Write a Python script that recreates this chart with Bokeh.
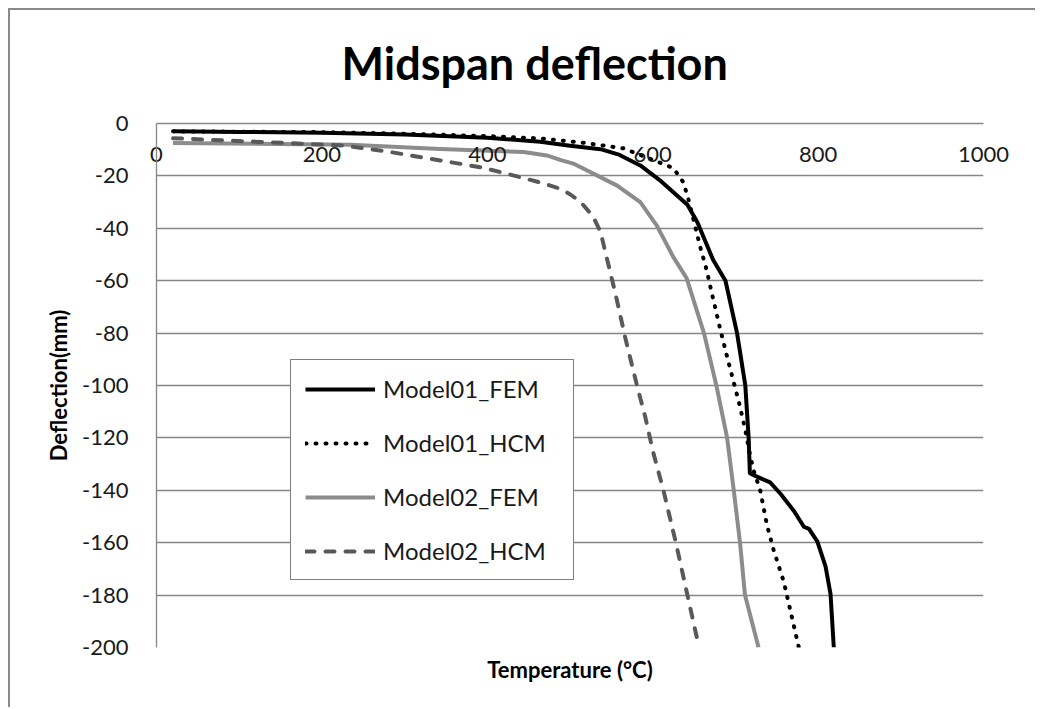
from bokeh.plotting import figure
from bokeh.models import Range1d, FixedTicker, Legend, LegendItem, Title, LinearAxis
from bokeh.embed import file_html
from bokeh.resources import INLINE

# ---- data ----
m1_fem_t = [20, 100, 200, 300, 400, 464, 500, 537, 560, 585, 610, 642, 654, 673, 688,
            702, 712, 716, 717.5, 724, 742, 755, 771, 783, 789, 799, 809, 815, 819]
m1_fem_d = [-3.0, -3.2, -3.5, -4.2, -5.4, -7.0, -8.5, -9.8, -12, -16, -22, -31, -37.7, -52, -60,
            -80, -100, -120, -133.5, -134.5, -137, -141.5, -148, -154, -154.7, -159.5, -169, -179.5, -200]

m1_hcm_t = [20, 200, 300, 400, 464, 520, 565, 597, 625, 637, 643, 648, 658, 666, 668,
            682, 694, 704, 712, 718, 722, 730, 738, 746.4, 758.6, 776.7]
m1_hcm_d = [-3.0, -3.3, -3.9, -4.8, -5.7, -7.5, -9.5, -13.5, -17, -22.4, -28.7, -35, -47.7, -56.8, -60,
            -79, -94, -106, -117, -127, -132.4, -140, -153, -163, -175, -200]

m2_fem_t = [20, 235, 343, 444, 472, 489, 504, 557, 585, 605, 625, 641, 662, 677, 690, 698, 705.6, 711.6, 728]
m2_fem_d = [-7.4, -8.1, -9.7, -10.9, -12.2, -14, -15.3, -23.7, -30, -39, -51, -59, -80, -100, -120, -140, -160, -180, -200]

m2_hcm_t = [20, 226, 283, 343, 392, 424, 464, 489, 500, 513, 528, 537, 545, 555, 567, 581,
            591, 601, 613, 628, 642, 656]
m2_hcm_d = [-5.6, -8.4, -10.9, -14.1, -16.7, -19.2, -22.5, -25, -27, -30, -35.5, -41.5, -52, -65, -82, -100,
            -112, -126, -140, -160, -180, -200]

series_names = ["Model01_FEM", "Model01_HCM", "Model02_FEM", "Model02_HCM"]
x_ticks = [0, 200, 400, 600, 800, 1000]
y_ticks = [0, -20, -40, -60, -80, -100, -120, -140, -160, -180, -200]

FONT = "Lato"
TXT = "#1a1a1a"
GRID = "#868686"

p = figure(frame_width=827, frame_height=524,
           min_border_left=146, min_border_right=52, min_border_top=113, min_border_bottom=60,
           x_range=Range1d(0, 1000), y_range=Range1d(-200, 0), title=None,
           x_axis_location=None,
           output_backend="svg", toolbar_location=None)
p.styles = {"margin-left": "8px", "margin-top": "8px",
            "border-left": "2px solid #8a8a8a", "border-top": "2px solid #8a8a8a"}
p.outline_line_color = None
p.background_fill_color = "white"
p.border_fill_color = "white"

# x axis along the top (y = 0) with its labels hanging below the line
xa = LinearAxis(ticker=FixedTicker(ticks=x_ticks))
xa.axis_line_color = GRID
xa.axis_line_width = 1.3
xa.major_tick_line_color = None
xa.minor_tick_line_color = None
xa.major_label_standoff = -44
xa.major_label_text_font = FONT
xa.major_label_text_font_size = "22px"
xa.major_label_text_color = TXT
p.add_layout(xa, "above")

# spacer, then the title
p.add_layout(Title(text=" ", text_font_size="16px"), "above")
p.add_layout(Title(text="Midspan deflection", text_font=FONT, text_font_size="45px",
                   text_font_style="bold", text_color="#000000", align="left", offset=185), "above")

# bottom axis: only the axis title
xb = LinearAxis(ticker=FixedTicker(ticks=[]))
xb.axis_line_color = None
xb.major_tick_line_color = None
xb.minor_tick_line_color = None
xb.axis_label = "Temperature (°C)"
xb.axis_label_text_font = FONT
xb.axis_label_text_font_size = "22px"
xb.axis_label_text_font_style = "bold"
xb.axis_label_text_color = "#000000"
xb.axis_label_standoff = 8
p.add_layout(xb, "below")

# y axis
p.yaxis.ticker = FixedTicker(ticks=y_ticks)
p.yaxis.major_label_overrides = {t: str(t) for t in y_ticks}
p.yaxis.axis_line_color = GRID
p.yaxis.axis_line_width = 1.3
p.yaxis.major_tick_line_color = None
p.yaxis.minor_tick_line_color = None
p.yaxis.major_label_standoff = 22
p.yaxis.major_label_text_font = FONT
p.yaxis.major_label_text_font_size = "22px"
p.yaxis.major_label_text_color = TXT
p.yaxis.axis_label = "Deflection(mm)"
p.yaxis.axis_label_text_font = FONT
p.yaxis.axis_label_text_font_size = "22px"
p.yaxis.axis_label_text_font_style = "bold"
p.yaxis.axis_label_text_color = "#000000"
p.yaxis.axis_label_standoff = 7

p.xgrid.visible = False
p.ygrid.ticker = FixedTicker(ticks=y_ticks)
p.ygrid.grid_line_color = GRID
p.ygrid.grid_line_width = 1.3

r1 = p.line(m1_fem_t, m1_fem_d, line_color="#000000", line_width=4, line_join="round")
r2 = p.line(m1_hcm_t, m1_hcm_d, line_color="#000000", line_width=4, line_dash="1 9",
            line_cap="round", line_join="round")
r3 = p.line(m2_fem_t, m2_fem_d, line_color="#8c8c8c", line_width=4, line_join="round")
r4 = p.line(m2_hcm_t, m2_hcm_d, line_color="#595959", line_width=4, line_dash="9 11",
            line_cap="round", line_join="round")

legend = Legend(items=[LegendItem(label=n, renderers=[r]) for n, r in zip(series_names, [r1, r2, r3, r4])],
                location=(134, 67))
legend.border_line_color = "#000000"
legend.border_line_width = 1.5
legend.background_fill_color = "white"
legend.background_fill_alpha = 1
legend.padding = 14
legend.margin = 0
legend.spacing = 25
legend.glyph_width = 70
legend.glyph_height = 20
legend.label_height = 20
legend.label_width = 176
legend.label_standoff = 8
legend.label_text_font = FONT
legend.label_text_font_size = "24px"
legend.label_text_color = TXT
p.add_layout(legend, "center")

open("out.html", "w").write(file_html(p, INLINE))
